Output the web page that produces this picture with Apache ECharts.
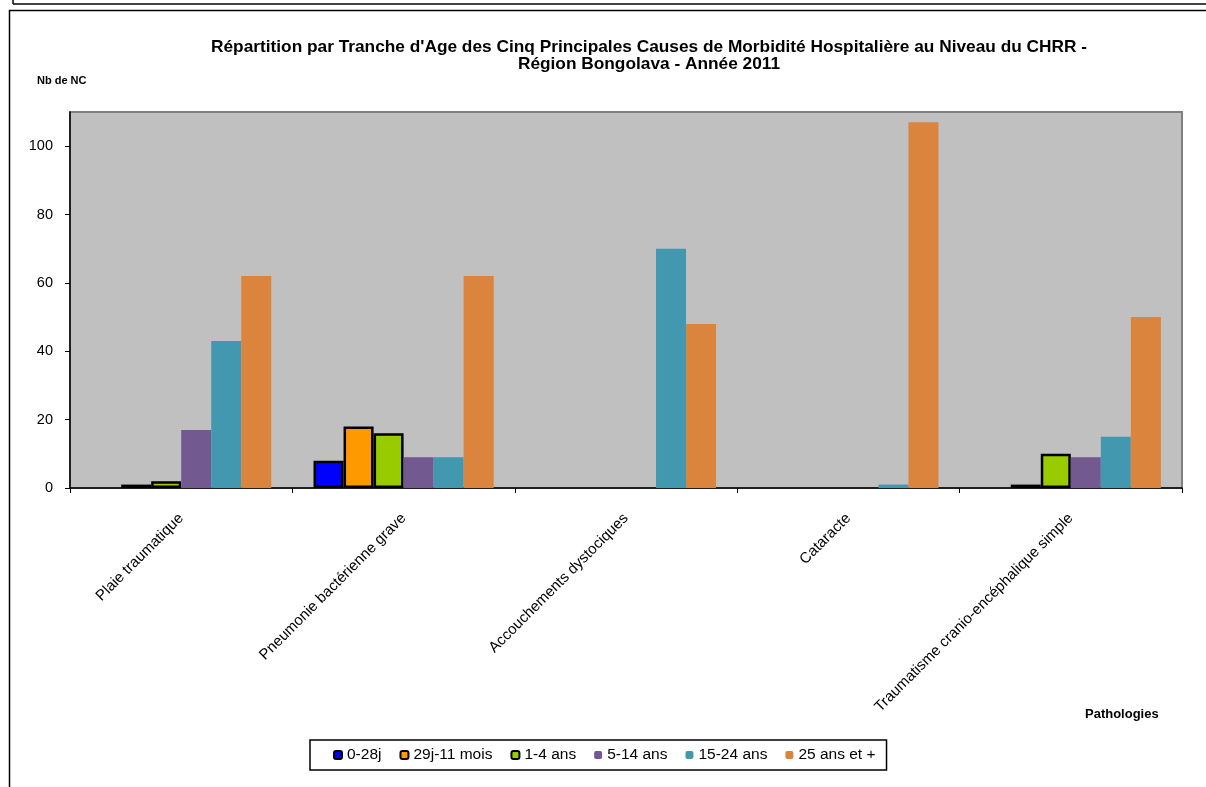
<!DOCTYPE html>
<html>
<head>
	<meta charset="utf-8" />
	<title>Morbidité hospitalière CHRR Bongolava 2011</title>
	<script src="https://cdn.jsdelivr.net/npm/echarts@6/dist/echarts.min.js"></script>
	<style>
		html, body { margin: 0; padding: 0; background: #fff; }
	</style>
</head>
<body>
	<!-- chart container -->
	<div id="main" style="width: 1206px;height: 787px;"></div>
	<script type="text/javascript">

		// data ('-' = no bar)
		var pathologies = ['Plaie traumatique', 'Pneumonie bactérienne grave', 'Accouchements dystociques', 'Cataracte', 'Traumatisme cranio-encéphalique simple'];
		var tranches = ['0-28j', '29j-11 mois', '1-4 ans', '5-14 ans', '15-24 ans', '25 ans et +'];
		var v0_28j    = ['-', 8, '-', '-', '-'];
		var v29j_11m  = [1, 18, '-', '-', 1];
		var v1_4      = [2, 16, '-', '-', 10];
		var v5_14     = [17, 9, '-', '-', 9];
		var v15_24    = [43, 9, 70, 1, 15];
		var v25plus   = [62, 62, 48, 107, 50];
		var yTicks    = [0, 20, 40, 60, 80, 100];

		var values = [v0_28j, v29j_11m, v1_4, v5_14, v15_24, v25plus];
		var colors = ['#0000FF', '#FF9900', '#99CC00', '#725990', '#4198AF', '#DB843D'];
		var outlined = [true, true, true, false, false, false];

		var myChart = echarts.init(document.getElementById('main'));

		var series = [];
		for (var i = 0; i < tranches.length; i++) {
			series.push({
				name: tranches[i],
				type: 'bar',
				data: values[i],
				barGap: 0,
				barCategoryGap: '19%',
				itemStyle: {
					color: colors[i],
					borderColor: outlined[i] ? '#000' : colors[i],
					borderWidth: outlined[i] ? 2.5 : 0
				}
			});
		}

		var option = {
			backgroundColor: '#fff',
			animation: false,
			textStyle: { fontFamily: 'Liberation Sans, Arial, sans-serif' },
			title: {
				text: "Répartition par Tranche d'Age des Cinq Principales Causes de Morbidité Hospitalière au Niveau du CHRR -\nRégion Bongolava - Année 2011",
				left: 644,
				top: 34,
				textAlign: 'center',
				textStyle: { fontSize: 17.3, fontWeight: 'bold', color: '#000', lineHeight: 17 }
			},
			legend: {
				data: tranches,
				left: 310,
				top: 740,
				itemWidth: 8,
				itemHeight: 8,
				itemGap: 18,
				padding: [7, 11, 7, 23],
				borderColor: '#000',
				borderWidth: 1.5,
				textStyle: { fontSize: 15.5, color: '#000' }
			},
			grid: {
				left: 70,
				right: 24,
				top: 112,
				bottom: 299,
				show: true,
				backgroundColor: '#C0C0C0',
				borderColor: '#808080',
				borderWidth: 2,
				containLabel: false
			},
			xAxis: {
				type: 'category',
				data: pathologies,
				axisLine: { lineStyle: { color: '#000', width: 1.5 } },
				axisTick: { show: true, length: 5, inside: false, lineStyle: { color: '#000' } },
				axisLabel: { rotate: 45, fontSize: 15, color: '#000', margin: 28, interval: 0 }
			},
			yAxis: {
				type: 'value',
				min: 0,
				max: 110,
				interval: 20,
				splitLine: { show: false },
				axisLine: { show: true, lineStyle: { color: '#000', width: 1.5 } },
				axisTick: { show: true, length: 5, lineStyle: { color: '#000' }, customValues: yTicks },
				axisLabel: { fontSize: 14.5, color: '#000', margin: 17, customValues: yTicks }
			},
			graphic: [
				{ type: 'line', shape: { x1: 13, y1: 4, x2: 1206, y2: 4 }, style: { stroke: '#000', lineWidth: 1.5 } },
				{ type: 'line', shape: { x1: 13, y1: 0, x2: 13, y2: 4 }, style: { stroke: '#000', lineWidth: 1.5 } },
				{ type: 'rect', shape: { x: 9.5, y: 10.5, width: 1210, height: 800 }, style: { fill: 'none', stroke: '#000', lineWidth: 1.5 } },
				// axis names
				{ type: 'text', left: 37, top: 75, style: { text: 'Nb de NC', font: 'bold 11px Liberation Sans, Arial, sans-serif', fill: '#000' } },
				{ type: 'text', left: 1085, top: 708, style: { text: 'Pathologies', font: 'bold 13px Liberation Sans, Arial, sans-serif', fill: '#000' } }
			],
			series: series
		};

		myChart.setOption(option);

	</script>
</body>
</html>
